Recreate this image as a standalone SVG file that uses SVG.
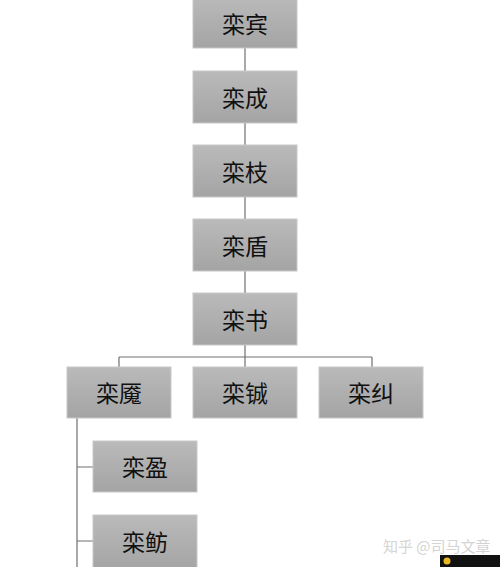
<svg xmlns="http://www.w3.org/2000/svg" width="500" height="567" viewBox="0 0 500 567">
<defs>
<linearGradient id="g" x1="0" y1="0" x2="0" y2="1">
<stop offset="0" stop-color="#bababa"/>
<stop offset="1" stop-color="#a4a4a4"/>
</linearGradient>
<style>
.box{fill:url(#g);stroke:#c8c8c8;stroke-width:1}
.t{font-family:"Noto Sans CJK SC","Noto Sans",sans-serif;font-size:23px;fill:#111;text-anchor:middle;dominant-baseline:central}
.c{stroke:#707070;stroke-width:1.2;fill:none}
</style>
</defs>
<rect width="500" height="567" fill="#fff"/>
<g id="connectors">
<path class="c" d="M245 48V71M245 123V145M245 197V219M245 271V293M245 345V357M119 357H372M119 357V367M245 357V367M372 357V367M77 418V567M77 467H93M77 541H93"/>
</g>
<g id="n1"><rect class="box" x="193" y="-3" width="104" height="51"/><text class="t" x="245" y="23">栾宾</text></g>
<g id="n2"><rect class="box" x="193" y="71" width="104" height="52"/><text class="t" x="245" y="97">栾成</text></g>
<g id="n3"><rect class="box" x="193" y="145" width="104" height="52"/><text class="t" x="245" y="171">栾枝</text></g>
<g id="n4"><rect class="box" x="193" y="219" width="104" height="52"/><text class="t" x="245" y="245">栾盾</text></g>
<g id="n5"><rect class="box" x="193" y="293" width="104" height="52"/><text class="t" x="245" y="319">栾书</text></g>
<g id="n6"><rect class="box" x="67" y="367" width="104" height="51"/><text class="t" x="119" y="392">栾魇</text></g>
<g id="n7"><rect class="box" x="193" y="367" width="104" height="51"/><text class="t" x="245" y="392">栾铖</text></g>
<g id="n8"><rect class="box" x="319" y="367" width="104" height="51"/><text class="t" x="371" y="392">栾纠</text></g>
<g id="n9"><rect class="box" x="93" y="441" width="104" height="51"/><text class="t" x="145" y="466">栾盈</text></g>
<g id="n10"><rect class="box" x="93" y="515" width="104" height="55"/><text class="t" x="145" y="541">栾鲂</text></g>
<g id="watermark">
<text x="383" y="552" font-family="Noto Sans CJK SC,sans-serif" font-size="15" fill="#d4d4d4">知乎 @司马文章</text>
<rect x="440" y="555" width="60" height="12" fill="#111"/>
<circle cx="447" cy="561" r="3.5" fill="#e8b820"/>
</g>
</svg>
